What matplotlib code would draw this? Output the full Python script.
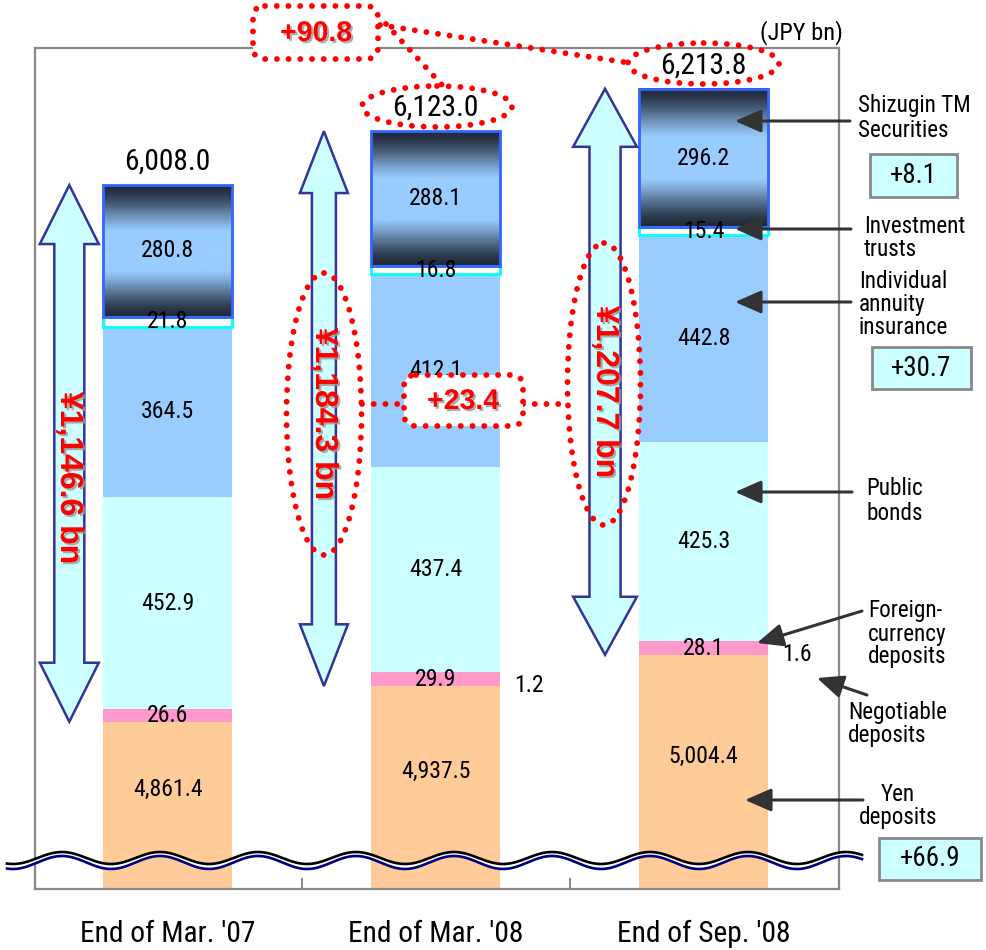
import numpy as np
import matplotlib
matplotlib.use('Agg')
import matplotlib.pyplot as plt
from matplotlib import font_manager
from matplotlib.font_manager import FontProperties
from matplotlib.textpath import TextPath
from matplotlib.patches import Polygon, Ellipse, FancyBboxPatch, Rectangle
import matplotlib.patheffects as pe

# ---------------- data ----------------
categories = ["End of Mar. '07", "End of Mar. '08", "End of Sep. '08"]
yen_deposits = [4861.4, 4937.5, 5004.4]
foreign_currency = [26.6, 29.9, 28.1]
negotiable = [0.0, 1.2, 1.6]
public_bonds = [452.9, 437.4, 425.3]
annuity = [364.5, 412.1, 442.8]
inv_trusts = [21.8, 16.8, 15.4]
securities = [280.8, 288.1, 296.2]
totals = [6008.0, 6123.0, 6213.8]
span_labels = ["¥1,146.6 bn", "¥1,184.3 bn", "¥1,207.7 bn"]
change_labels = ["+8.1", "+30.7", "+66.9"]
total_change = "+90.8"
span_change = "+23.4"

# ---------------- fonts ----------------
WIDE = 'Liberation Sans'
bad = ('bold', 'italic', 'oblique', 'light', 'extra', 'semi', 'black', 'medium', 'thin', 'ultra')
prefs = ['liberationsansnarrow-regular', 'arialn', 'robotocondensed-regular', 'notosans-condensed.',
         'notosans-condensed', 'opensans-condensed', 'opensanscondensed', 'dejavusanscondensed.']
found = {}
for fe in font_manager.fontManager.ttflist:
    fn = fe.fname.split('/')[-1].lower()
    if ('narrow' in fn or 'condensed' in fn) and not any(b in fn.replace('condensed', '') for b in bad):
        found[fn] = fe.fname
narrow_file = None
for p in prefs:
    for fn, path in found.items():
        if fn.startswith(p):
            narrow_file = path
            break
    if narrow_file:
        break
if narrow_file:
    FP = FontProperties(fname=narrow_file)
else:
    FP = FontProperties(family=WIDE)
# width factor so text widths match an Arial-Narrow-like face
sample = "End of Mar. '07 0123456789 Securities"
w_ref = TextPath((0, 0), sample, size=100, prop=FontProperties(family=WIDE)).get_extents().width * 0.82
w_use = TextPath((0, 0), sample, size=100, prop=FP).get_extents().width
K = w_ref / w_use


def nfp(size):
    p = FP.copy()
    p.set_size(size * K)
    return p


fig = plt.figure(figsize=(9.86, 9.5), dpi=100)
ax = fig.add_axes([35/986, 61/950, 804/986, 840.7/950])
YMIN, YMAX = 4503.9, 6300.3

x = np.arange(len(categories))
W = 0.48
yen = np.array(yen_deposits)
fc = np.array(foreign_currency)
neg = np.array(negotiable)
pb = np.array(public_bonds)
an = np.array(annuity)
it = np.array(inv_trusts)
se = np.array(securities)

b1 = yen
b2 = b1 + fc
b3 = b2 + neg
b4 = b3 + pb
b5 = b4 + an
b6 = b5 + it

ax.bar(x, yen, W, color='#FFCC99', zorder=2)
ax.bar(x, fc, W, bottom=b1, color='#FF99CC', zorder=2)
ax.bar(x, neg, W, bottom=b2, color='#FF99CC', zorder=2)
ax.bar(x, pb, W, bottom=b3, color='#CCFFFF', zorder=2)
ax.bar(x, an, W, bottom=b4, color='#99CCFF', zorder=2)
ax.bar(x, it, W, bottom=b5, color='white', edgecolor='#00FFFF', linewidth=2, zorder=3)

# gradient for securities
t = np.linspace(0, 1, 256)
f = np.clip(1.2 * np.sin(np.pi * t) ** 1.6, 0, 1)
dark = np.array([0x20, 0x29, 0x38]) / 255
light = np.array([0x99, 0xCC, 0xFF]) / 255
grad = (dark[None, :] * (1 - f[:, None]) + light[None, :] * f[:, None])[:, None, :]
for i in range(3):
    ax.imshow(grad, extent=(x[i] - W/2, x[i] + W/2, b6[i], b6[i] + se[i]),
              origin='upper', aspect='auto', zorder=2, interpolation='bilinear')
ax.bar(x, se, W, bottom=b6, facecolor='none', edgecolor='#3366FF', linewidth=2, zorder=4)
ax.set_xlim(-0.495, 2.505)
ax.set_ylim(YMIN, YMAX)

# segment labels
lab_kw = dict(ha='center', va='center', fontproperties=nfp(18.5), color='black', zorder=6)
for i in range(3):
    ax.text(x[i], (b1[i] + YMIN) / 2 + 34, f"{yen[i]:,.1f}", **lab_kw)
    ax.text(x[i], b1[i] + fc[i] / 2, f"{fc[i]:.1f}", **lab_kw)
    ax.text(x[i], b3[i] + pb[i] / 2, f"{pb[i]:.1f}", **lab_kw)
    ax.text(x[i], b4[i] + an[i] / 2, f"{an[i]:.1f}", **lab_kw)
    ax.text(x[i], b5[i] + it[i] / 2, f"{it[i]:.1f}", **lab_kw)
    ax.text(x[i], b6[i] + se[i] / 2, f"{se[i]:.1f}", **lab_kw)
    if neg[i] > 0:
        ax.text(x[i] + 0.35, b2[i] - 28, f"{neg[i]:.1f}", **lab_kw)
    ax.text(x[i], totals[i] + 50, f"{totals[i]:,.1f}", ha='center', va='center',
            fontproperties=nfp(23), zorder=6)

# block double arrows spanning non-yen part
arrow_off = [-0.367, -0.417, -0.368]
head_hw = [0.110, 0.0896, 0.119]
shaft_hw = [0.056, 0.0448, 0.058]
head_len = [126, 132, 124]
for i in range(3):
    xc = x[i] + arrow_off[i]
    lo, hi = yen[i], totals[i]
    hw, sw, hl = head_hw[i], shaft_hw[i], head_len[i]
    pts = [(xc, hi), (xc + hw, hi - hl), (xc + sw, hi - hl), (xc + sw, lo + hl),
           (xc + hw, lo + hl), (xc, lo), (xc - hw, lo + hl), (xc - sw, lo + hl),
           (xc - sw, hi - hl), (xc - hw, hi - hl)]
    ax.add_patch(Polygon(pts, closed=True, facecolor='#CCFFFF', edgecolor='#333399',
                         linewidth=1.8, zorder=5, joinstyle='miter'))

# axes styling
for s in ax.spines.values():
    s.set_color('#888888')
    s.set_linewidth(1.6)
ax.set_yticks([])
ax.set_xticks([0.5, 1.5])
ax.set_xticklabels([])
ax.tick_params(axis='x', which='major', direction='in', length=8, width=1.4, color='#888888')
ax.set_xticks(x, minor=True)
ax.set_xticklabels(categories, minor=True, fontproperties=nfp(23))
ax.tick_params(axis='x', which='minor', length=0, pad=22)

# ---------------- overlay in pixel coordinates ----------------
ov = fig.add_axes([0, 0, 1, 1], zorder=5)
ov.set_xlim(0, 986)
ov.set_ylim(950, 0)
ov.axis('off')
ov.patch.set_alpha(0)

# break wave
xw = np.linspace(7, 862, 800)
ph = np.cos(2 * np.pi * (xw - 62) / 98)
yb = 858 - 6 * ph
yn = 862.5 - 6.5 * ph
ov.fill_between(xw, yb, yn, color='white', zorder=1)
ov.plot(xw, yb, color='black', lw=1.9, zorder=2)
ov.plot(xw, yn, color='#000080', lw=1.9, zorder=2)

# red dotted decorations
DOT = (0, (0.01, 2.0))
dkw = dict(color='red', lw=4.2, linestyle=DOT, dash_capstyle='round', zorder=3)
pkw = dict(edgecolor='red', lw=4.2, linestyle=DOT, capstyle='round', zorder=3)
ov.plot([380, 630], [25, 63], **dkw)
ov.plot([386, 443], [24, 86], **dkw)
ov.plot([362, 404], [404, 404], **dkw)
ov.plot([523, 567], [404, 404], **dkw)
ov.add_patch(Ellipse((437, 106.5), 150, 41, fill=False, **pkw))
ov.add_patch(Ellipse((703.5, 63.5), 151, 41, fill=False, **pkw))
ov.add_patch(Ellipse((324, 414), 75, 282, fill=False, **pkw))
ov.add_patch(Ellipse((604, 384), 73, 282, fill=False, **pkw))
ov.add_patch(FancyBboxPatch((253, 6), 125, 53, boxstyle='round,pad=0,rounding_size=12',
                            facecolor='white', **pkw))
ov.add_patch(FancyBboxPatch((404, 375), 119, 51, boxstyle='round,pad=0,rounding_size=12',
                            facecolor='white', **pkw))

shadow = [pe.SimplePatchShadow(offset=(1.5, -1.5), shadow_rgbFace='#999999', alpha=0.8), pe.Normal()]
rkw = dict(color='red', fontweight='bold', family=WIDE, ha='center', va='center', zorder=4,
           path_effects=shadow)
ov.text(316, 34, total_change, fontsize=20.5, **rkw)
ov.text(463, 402, span_change, fontsize=20.5, **rkw)
span_pos = [(69, 478), (324, 414), (605, 392)]
for (px, py), s in zip(span_pos, span_labels):
    ov.text(px, py, s, fontsize=23, rotation=270, **rkw)

# right-hand labels and pointer arrows
tkw = dict(fontproperties=nfp(18), color='black', va='center', ha='left', zorder=4)
ov.text(858, 118, "Shizugin TM\nSecurities", linespacing=1.15, **tkw)
ov.text(864, 238, "Investment\ntrusts", linespacing=0.95, **tkw)
ov.text(859, 304, "Individual\nannuity\ninsurance", linespacing=1.0, **tkw)
ov.text(866, 501, "Public\nbonds", linespacing=1.15, **tkw)
ov.text(868, 634, "Foreign-\ncurrency\ndeposits", linespacing=1.0, **tkw)
ov.text(848, 724, "Negotiable\ndeposits", linespacing=1.0, **tkw)
ov.text(898, 806, "Yen\ndeposits", linespacing=0.95, multialignment='center',
        **{**tkw, 'ha': 'center'})
ov.text(843, 33, "(JPY bn)", fontproperties=nfp(19), ha='right', va='center')

akw = dict(arrowstyle='-|>,head_length=0.8,head_width=0.35', color='#333333', lw=2.2,
           shrinkA=0, shrinkB=0, mutation_scale=20)
pointers = [((735, 121), (850, 121)), ((735, 229), (851, 229)), ((735, 302), (851, 302)),
            ((735, 492), (852, 492)), ((757, 643), (862, 611)), ((817, 678), (867, 695)),
            ((745, 800), (863, 800))]
for tip, tail in pointers:
    ov.annotate('', xy=tip, xytext=tail, arrowprops=akw, zorder=4)

boxes = [(870, 154, 87, 43), (872, 347, 99, 42), (879, 838, 102, 42)]
for (bx, by, bw, bh), s in zip(boxes, change_labels):
    ov.add_patch(Rectangle((bx, by), bw, bh, facecolor='#CCFFFF', edgecolor='#888888', lw=2, zorder=3))
    ov.text(bx + bw / 2, by + bh / 2, s, fontproperties=nfp(21), ha='center', va='center', zorder=4)

fig.savefig('out.png', dpi=100)
